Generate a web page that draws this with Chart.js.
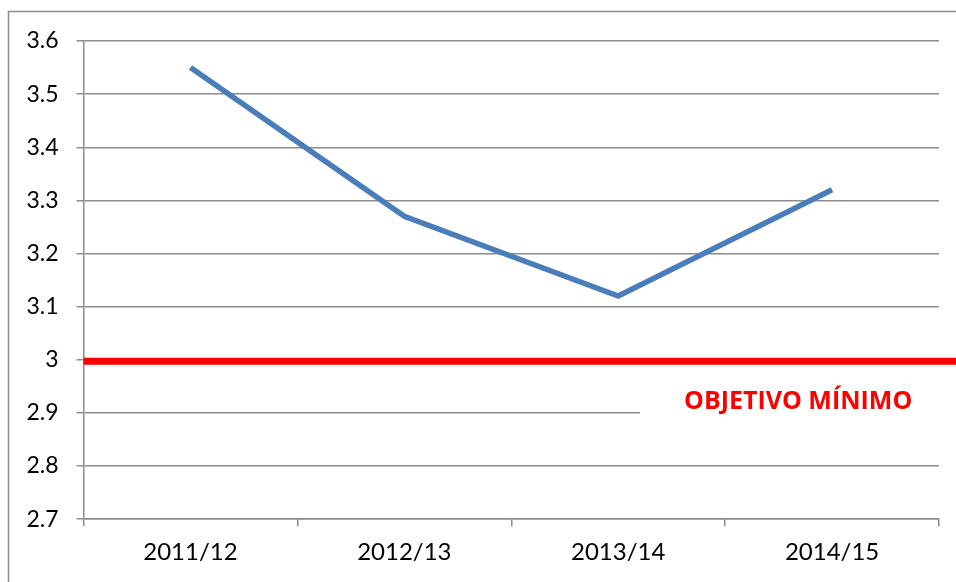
<!DOCTYPE html>
<html>
<head>
<meta charset="utf-8">
<script src="https://cdn.jsdelivr.net/npm/chart.js@4.4.0/dist/chart.umd.min.js"></script>
<style>
html,body{margin:0;padding:0;background:#fff;}
#wrap{width:956px;height:582px;position:relative;}
</style>
</head>
<body>
<div id="wrap"><canvas id="c" width="956" height="582"></canvas></div>
<script>
const categories = ['2011/12', '2012/13', '2013/14', '2014/15'];
const values = [3.55, 3.27, 3.12, 3.32];
const yMin = 2.7, yMax = 3.6, yStep = 0.1;
const targetValue = 3.0;
const targetLabel = 'OBJETIVO MÍNIMO';

const GRID = '#8c8c8c';

const overlay = {
  id: 'overlay',
  beforeDraw(chart) {
    const ctx = chart.ctx;
    ctx.save();
    ctx.fillStyle = '#fff';
    ctx.fillRect(0, 0, chart.width, chart.height);
    ctx.strokeStyle = GRID;
    ctx.lineWidth = 1.5;
    ctx.beginPath();
    ctx.moveTo(8.5, chart.height);
    ctx.lineTo(8.5, 11.5);
    ctx.lineTo(chart.width, 11.5);
    ctx.stroke();
    ctx.restore();
  },
  afterDatasetsDraw(chart) {
    const ctx = chart.ctx;
    const y = chart.scales.y;
    const a = chart.chartArea;
    ctx.save();
    const y29 = y.getPixelForValue(2.9);
    ctx.fillStyle = '#fff';
    ctx.fillRect(640, y29 - 3, a.right - 640 + 3, 6);
    const ty = y.getPixelForValue(targetValue) + 1.5;
    ctx.strokeStyle = '#ff0000';
    ctx.lineWidth = 7;
    ctx.beginPath();
    ctx.moveTo(a.left, ty);
    ctx.lineTo(chart.width, ty);
    ctx.stroke();
    ctx.fillStyle = '#ff0000';
    ctx.font = 'bold 25px "Open Sans"';
    ctx.textAlign = 'left';
    ctx.textBaseline = 'middle';
    ctx.fillText(targetLabel, 684, y.getPixelForValue(2.9) - 11);
    ctx.restore();
  }
};

new Chart(document.getElementById('c'), {
  type: 'line',
  data: {
    labels: categories,
    datasets: [{
      data: values,
      borderColor: '#4a7ebb',
      borderWidth: 5.5,
      pointRadius: 0,
      tension: 0,
      fill: false
    }]
  },
  options: {
    responsive: false,
    animation: false,
    devicePixelRatio: 1,
    layout: { padding: { top: 41, right: 17, left: 0, bottom: 3 } },
    plugins: { legend: { display: false }, tooltip: { enabled: false } },
    scales: {
      x: {
        offset: true,
        grid: { offset: true, drawOnChartArea: false, drawTicks: true, tickLength: 7, color: GRID, lineWidth: 1.5 },
        border: { display: true, color: GRID, width: 1.5 },
        ticks: { color: '#000', font: { family: 'Lato', size: 24 }, padding: 12, maxRotation: 0 }
      },
      y: {
        min: yMin, max: yMax,
        afterFit(s) { s.width = 83.5; },
        grid: { color: GRID, lineWidth: 1.5, tickLength: 7, drawTicks: true },
        border: { display: true, color: GRID, width: 1.5 },
        ticks: {
          stepSize: yStep,
          color: '#000',
          font: { family: 'Lato', size: 23 },
          padding: 18,
          callback: v => String(Number(v.toFixed(1)))
        }
      }
    }
  },
  plugins: [overlay]
});
</script>
</body>
</html>
